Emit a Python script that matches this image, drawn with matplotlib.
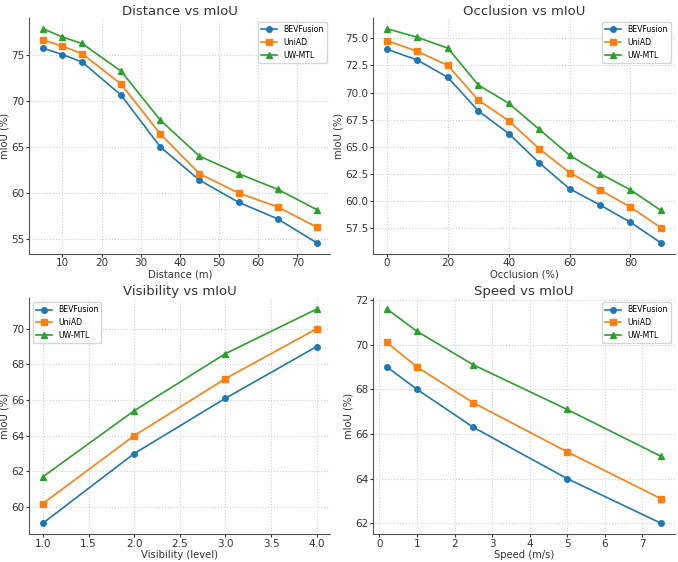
import numpy as np
import matplotlib
matplotlib.use("Agg")
import matplotlib.pyplot as plt

# datos
dist = [5, 10, 15, 25, 35, 45, 55, 65, 75]
dist_bev = [75.7, 75.0, 74.2, 70.6, 65.0, 61.4, 59.0, 57.2, 54.6]
dist_uni = [76.6, 75.9, 75.1, 71.8, 66.4, 62.1, 60.0, 58.5, 56.3]
dist_uw = [77.8, 76.9, 76.2, 73.2, 67.9, 64.0, 62.1, 60.4, 58.2]

occ = [0, 10, 20, 30, 40, 50, 60, 70, 80, 90]
occ_bev = [74.0, 73.0, 71.4, 68.3, 66.2, 63.5, 61.1, 59.6, 58.0, 56.1]
occ_uni = [74.8, 73.8, 72.5, 69.3, 67.4, 64.8, 62.6, 61.0, 59.4, 57.5]
occ_uw = [75.9, 75.1, 74.1, 70.7, 69.0, 66.6, 64.2, 62.5, 61.0, 59.1]

vis = [1, 2, 3, 4]
vis_bev = [59.1, 63.0, 66.1, 69.0]
vis_uni = [60.2, 64.0, 67.2, 70.0]
vis_uw = [61.7, 65.4, 68.6, 71.1]

speed = [0.2, 1, 2.5, 5, 7.5]
speed_bev = [69.0, 68.0, 66.3, 64.0, 62.0]
speed_uni = [70.1, 69.0, 67.4, 65.2, 63.1]
speed_uw = [71.6, 70.6, 69.1, 67.1, 65.0]

methods = ["BEVFusion", "UniAD", "UW-MTL"]
markers = ["o", "s", "^"]
colors = ["#1f77b4", "#ff7f0e", "#2ca02c"]

panels = [
    ("Distance vs mIoU", "Distance (m)", dist, [dist_bev, dist_uni, dist_uw], "upper right"),
    ("Occlusion vs mIoU", "Occlusion (%)", occ, [occ_bev, occ_uni, occ_uw], "upper right"),
    ("Visibility vs mIoU", "Visibility (level)", vis, [vis_bev, vis_uni, vis_uw], "upper left"),
    ("Speed vs mIoU", "Speed (m/s)", speed, [speed_bev, speed_uni, speed_uw], "upper right"),
]

fig, axes = plt.subplots(2, 2, figsize=(6.78, 5.62), dpi=100)
fig.subplots_adjust(left=0.043, right=0.995, top=0.968, bottom=0.05,
                    wspace=0.142, hspace=0.19)

for ax, (title, xlabel, x, ys, loc) in zip(axes.flat, panels):
    for y, name, m, c in zip(ys, methods, markers, colors):
        ax.plot(x, y, marker=m, color=c, label=name, markersize=4, linewidth=1.2)
    ax.set_title(title, fontsize=9.5, color="#333333", pad=2)
    ax.set_xlabel(xlabel, fontsize=7.2, color="#333333", labelpad=1)
    ax.set_ylabel("mIoU (%)", fontsize=7.2, color="#333333", labelpad=1)
    ax.tick_params(labelsize=7.5, colors="#333333", length=2, pad=1.5)
    ax.grid(True, linestyle=":", color="#d0d0d0", linewidth=0.8)
    for s in ["top", "right"]:
        ax.spines[s].set_visible(False)
    for s in ["left", "bottom"]:
        ax.spines[s].set_color("#555555")
    ax.legend(loc=loc, fontsize=5.6)

axes[0, 1].set_yticks(np.arange(57.5, 76, 2.5))
axes[1, 0].set_xticks(np.arange(1.0, 4.01, 0.5))
axes[1, 1].set_xticks(range(0, 8))
axes[1, 1].set_yticks([62, 64, 66, 68, 70, 72])

plt.savefig("out.png")
